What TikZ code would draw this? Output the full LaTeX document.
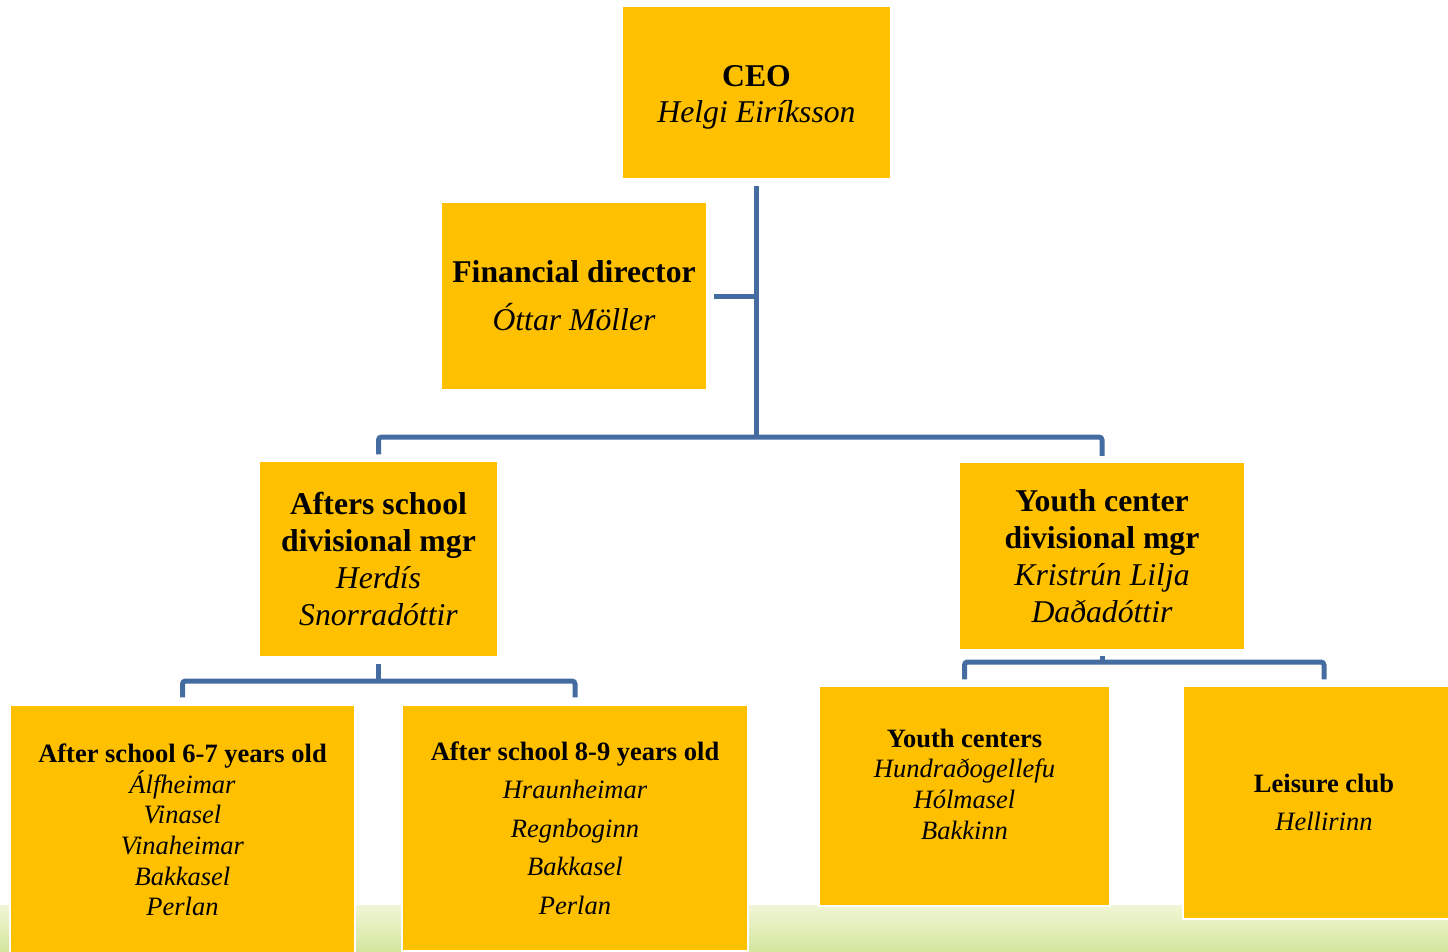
\documentclass[tikz,border=0pt]{standalone}
\usepackage{fontspec}
\setmainfont{Liberation Serif}
\definecolor{boxgold}{RGB}{255,192,0}
\definecolor{connblue}{RGB}{68,108,160}
\definecolor{bandgreen}{RGB}{212,230,158}
\definecolor{bandpale}{RGB}{240,246,214}
\tikzset{
  box/.style={fill=boxgold, draw=white, line width=1.5pt, inner sep=0pt, align=center},
  conn/.style={draw=connblue, line width=5pt, rounded corners=3pt},
  bigtxt/.style={font={\fontsize{31.7}{37}\selectfont}},
  smalltxt/.style={font={\fontsize{26.5}{30.7}\selectfont}}
}
\begin{document}
\begin{tikzpicture}[x=1pt,y=-1pt]
\useasboundingbox (0,0) rectangle (1448,951);
\clip (0,0) rectangle (1448,951);

% Background band
\shade[top color=bandpale, bottom color=bandgreen] (0,905) rectangle (1448,951);

% Top level
\node[box, minimum width=269pt, minimum height=173pt] (ceo) at (756.5,92.5) {};
\node[font={\fontsize{31.7}{36}\selectfont}, align=center] (ceotxt) at (756.5,97.5)
  {\textbf{CEO}\\\textit{Helgi Eiríksson}};
\node[box, font={\fontsize{31.7}{48}\selectfont}, minimum width=266pt, minimum height=188pt] (fin) at (574,296)
  {\textbf{Financial director}\\\textit{Óttar Möller}};

% Divisional managers
\node[box, bigtxt, minimum width=239pt, minimum height=196pt] (asm) at (378.5,559)
  {\textbf{Afters school}\\\textbf{divisional mgr}\\\textit{Herdís}\\\textit{Snorradóttir}};
\node[box, bigtxt, minimum width=286pt, minimum height=187pt] (ycm) at (1102,556)
  {\textbf{Youth center}\\\textbf{divisional mgr}\\\textit{Kristrún Lilja}\\\textit{Daðadóttir}};

% Units
\node[box, smalltxt, minimum width=345pt, minimum height=250pt] (as67) at (182.5,830)
  {\textbf{After school 6-7 years old}\\\textit{Álfheimar}\\\textit{Vinasel}\\\textit{Vinaheimar}\\\textit{Bakkasel}\\\textit{Perlan}};
\node[box, font={\fontsize{26.5}{38.5}\selectfont}, minimum width=346pt, minimum height=246pt] (as89) at (575,828)
  {\textbf{After school 8-9 years old}\\\textit{Hraunheimar}\\\textit{Regnboginn}\\\textit{Bakkasel}\\\textit{Perlan}};
\node[box, minimum width=291pt, minimum height=220pt] (yc) at (964.5,796) {};
\node[smalltxt, align=center] (yctxt) at (964.5,784)
  {\textbf{Youth centers}\\\textit{Hundraðogellefu}\\\textit{Hólmasel}\\\textit{Bakkinn}};
\node[box, font={\fontsize{26.5}{38}\selectfont}, minimum width=282pt, minimum height=233pt] (lc) at (1324,802.5)
  {\textbf{Leisure club}\\\textit{Hellirinn}};

% Connectors
\coordinate (hub) at (756.5,437);
\draw[conn] ([yshift=-6pt]ceo.south) -- (hub);
\draw[conn] ([xshift=6pt]fin.east) -- (fin.east -| hub);
\draw[conn] ([yshift=6pt]asm.north) |- (hub) -| ([yshift=6pt]ycm.north);

\coordinate (ashub) at (378.5,681);
\draw[conn] ([yshift=-6pt]asm.south) -- (ashub);
\draw[conn] ([yshift=7pt]as67.north) |- (ashub) -| ([yshift=7pt]as89.north);

\coordinate (ychub) at (1102,662);
\draw[conn] ([yshift=-6pt]ycm.south) -- (ychub);
\draw[conn] ([yshift=6pt]yc.north) |- (ychub) -| ([yshift=6pt]lc.north);
\end{tikzpicture}
\end{document}
